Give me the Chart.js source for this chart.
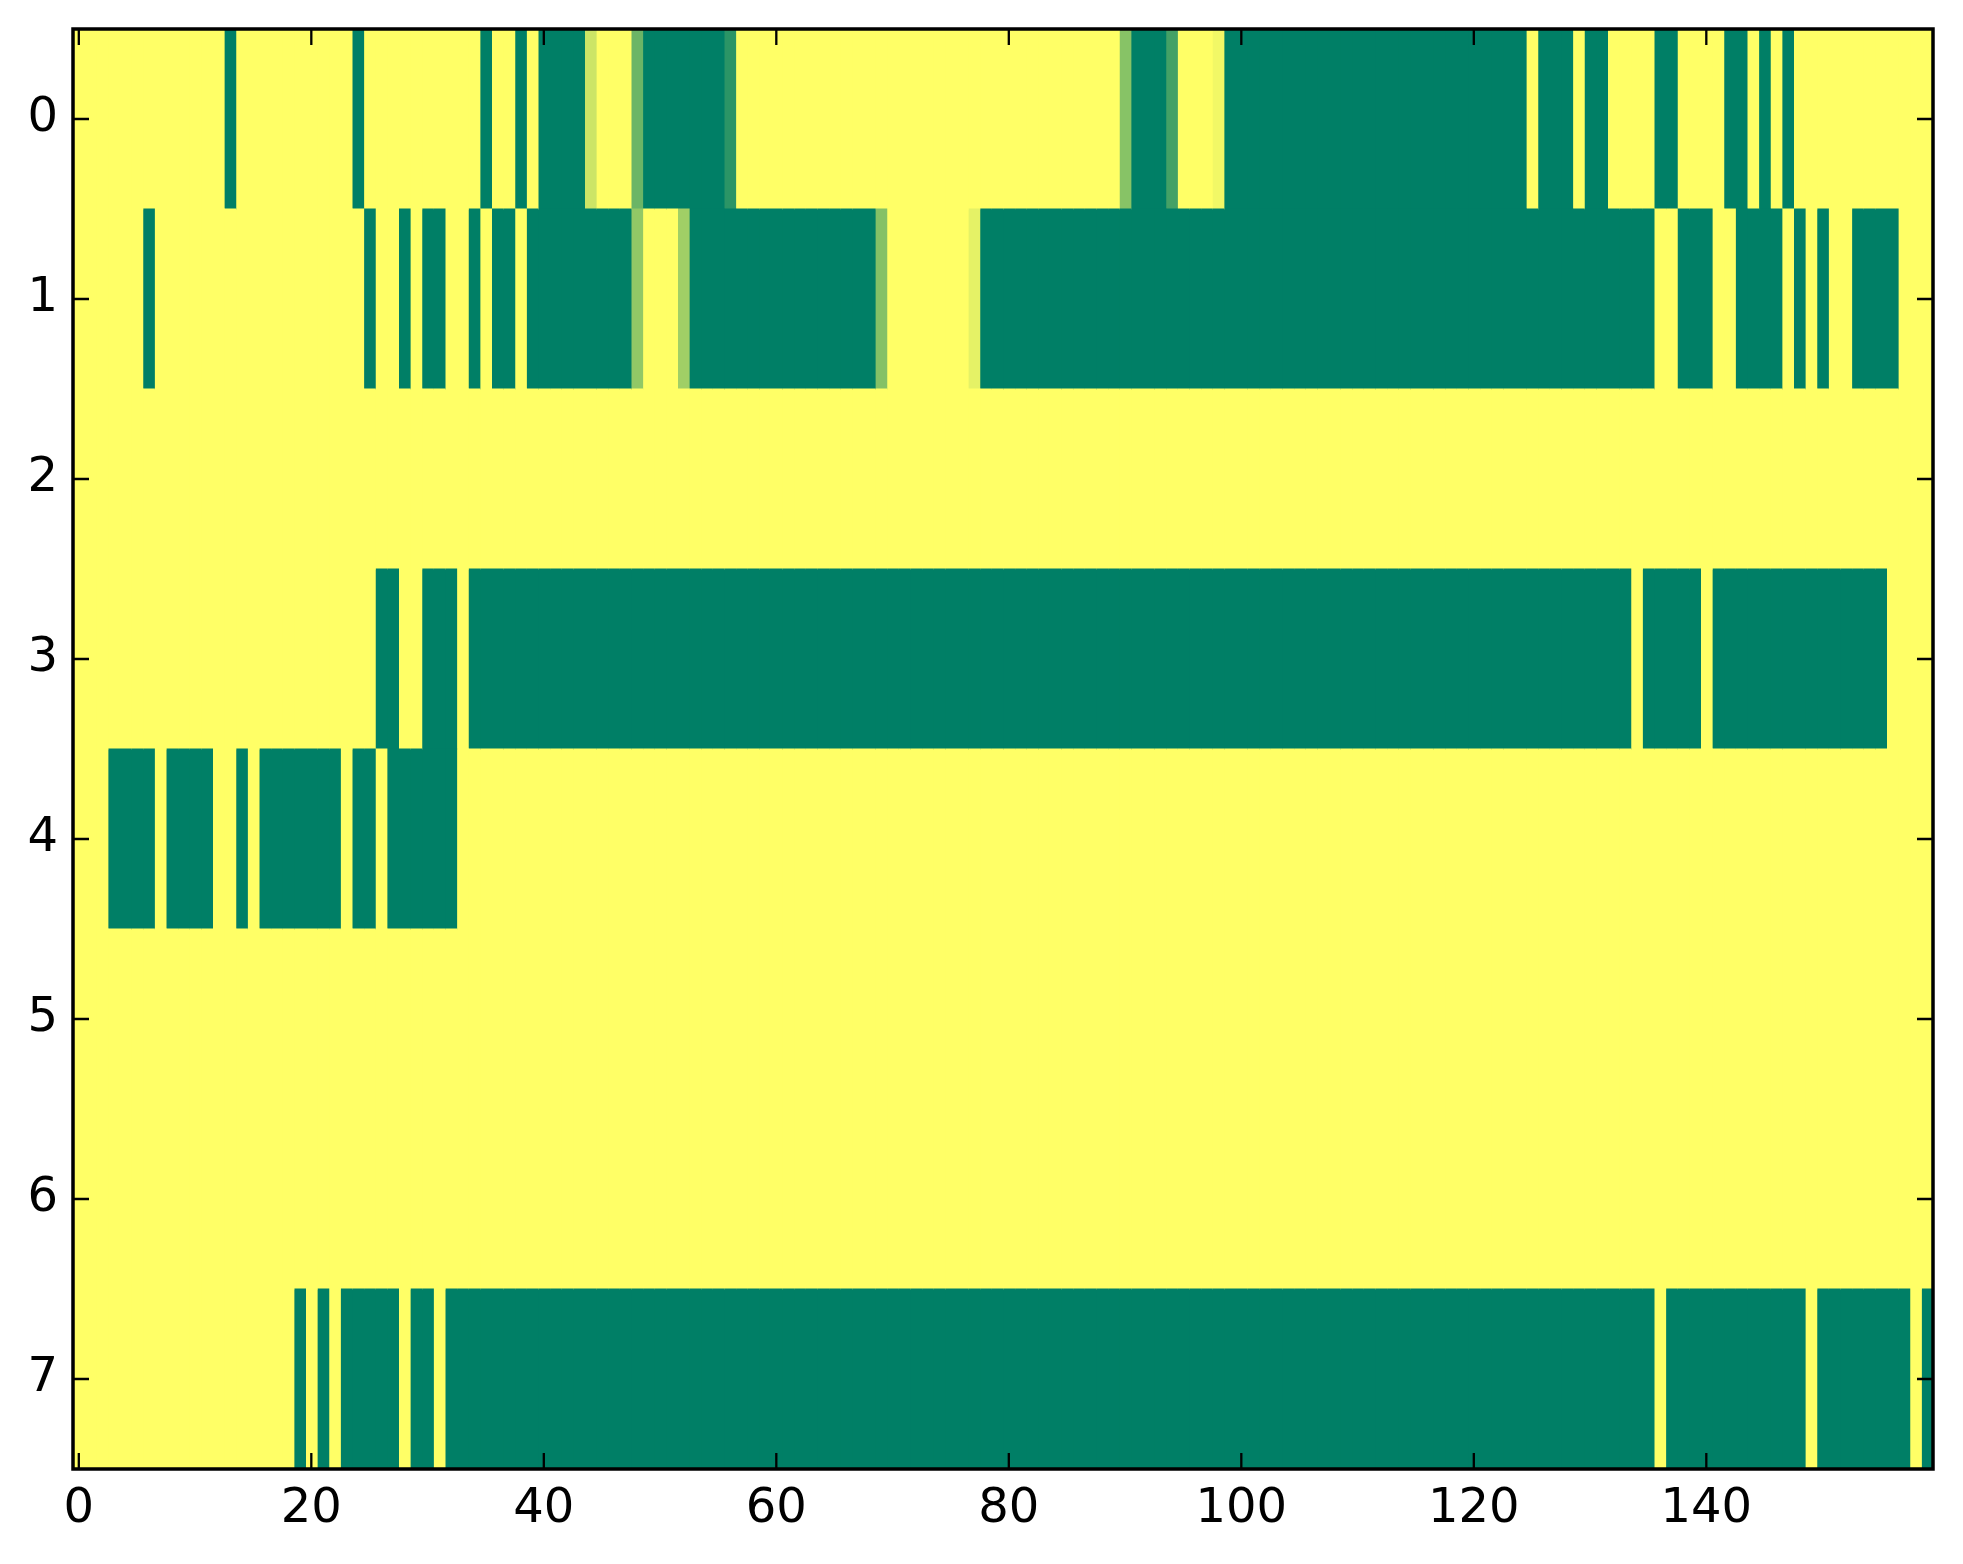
<!DOCTYPE html>
<html><head><meta charset="utf-8">
<script src="https://cdn.jsdelivr.net/npm/chart.js@4.4.0/dist/chart.umd.min.js"></script>
<style>html,body{margin:0;padding:0;background:#fff;}#wrap{width:1963px;height:1564px;}</style>
</head><body><div id="wrap"><canvas id="c" width="1963" height="1564"></canvas></div>
<script>
const xTickValues = [0, 20, 40, 60, 80, 100, 120, 140];
const yLabels = ['0', '1', '2', '3', '4', '5', '6', '7'];

const row0 = [
1,1,1,1,1,1,1,1,1,1,
1,1,1,0,1,1,1,1,1,1,
1,1,1,1,0,1,1,1,1,1,
1,1,1,1,1,0,1,1,0,1,
0,0,0,0,0.8,1,1,1,0.42,0,
0,0,0,0,0,0,0.17,1,1,1,
1,1,1,1,1,1,1,1,1,1,
1,1,1,1,1,1,1,1,1,1,
1,1,1,1,1,1,1,1,1,1,
0.53,0,0,0,0.27,1,1,1,0.95,0,
0,0,0,0,0,0,0,0,0,0,
0,0,0,0,0,0,0,0,0,0,
0,0,0,0,0,1,0,0,0,1,
0,0,1,1,1,1,0,0,1,1,
1,1,0,0,1,0,1,0,1,1,
1,1,1,1,1,1,1,1,1,1];
const row1 = [
1,1,1,1,1,1,0,1,1,1,
1,1,1,1,1,1,1,1,1,1,
1,1,1,1,1,0,1,1,0,1,
0,0,1,1,0,1,0,0,1,0,
0,0,0,0,0,0,0,0,0.57,1,
1,1,0.63,0,0,0,0,0,0,0,
0,0,0,0,0,0,0,0,0,0.52,
1,1,1,1,1,1,1,0.9,0,0,
0,0,0,0,0,0,0,0,0,0,
0,0,0,0,0,0,0,0,0,0,
0,0,0,0,0,0,0,0,0,0,
0,0,0,0,0,0,0,0,0,0,
0,0,0,0,0,0,0,0,0,0,
0,0,0,0,0,0,1,1,0,0,
0,1,1,0,0,0,0,1,0,1,
0,1,1,0,0,0,0,1,1,1];
const row2 = [
1,1,1,1,1,1,1,1,1,1,
1,1,1,1,1,1,1,1,1,1,
1,1,1,1,1,1,1,1,1,1,
1,1,1,1,1,1,1,1,1,1,
1,1,1,1,1,1,1,1,1,1,
1,1,1,1,1,1,1,1,1,1,
1,1,1,1,1,1,1,1,1,1,
1,1,1,1,1,1,1,1,1,1,
1,1,1,1,1,1,1,1,1,1,
1,1,1,1,1,1,1,1,1,1,
1,1,1,1,1,1,1,1,1,1,
1,1,1,1,1,1,1,1,1,1,
1,1,1,1,1,1,1,1,1,1,
1,1,1,1,1,1,1,1,1,1,
1,1,1,1,1,1,1,1,1,1,
1,1,1,1,1,1,1,1,1,1];
const row3 = [
1,1,1,1,1,1,1,1,1,1,
1,1,1,1,1,1,1,1,1,1,
1,1,1,1,1,1,0,0,1,1,
0,0,0,1,0,0,0,0,0,0,
0,0,0,0,0,0,0,0,0,0,
0,0,0,0,0,0,0,0,0,0,
0,0,0,0,0,0,0,0,0,0,
0,0,0,0,0,0,0,0,0,0,
0,0,0,0,0,0,0,0,0,0,
0,0,0,0,0,0,0,0,0,0,
0,0,0,0,0,0,0,0,0,0,
0,0,0,0,0,0,0,0,0,0,
0,0,0,0,0,0,0,0,0,0,
0,0,0,0,1,0,0,0,0,0,
1,0,0,0,0,0,0,0,0,0,
0,0,0,0,0,0,1,1,1,1];
const row4 = [
1,1,1,0,0,0,0,1,0,0,
0,0,1,1,0,1,0,0,0,0,
0,0,0,1,0,0,1,0,0,0,
0,0,0,1,1,1,1,1,1,1,
1,1,1,1,1,1,1,1,1,1,
1,1,1,1,1,1,1,1,1,1,
1,1,1,1,1,1,1,1,1,1,
1,1,1,1,1,1,1,1,1,1,
1,1,1,1,1,1,1,1,1,1,
1,1,1,1,1,1,1,1,1,1,
1,1,1,1,1,1,1,1,1,1,
1,1,1,1,1,1,1,1,1,1,
1,1,1,1,1,1,1,1,1,1,
1,1,1,1,1,1,1,1,1,1,
1,1,1,1,1,1,1,1,1,1,
1,1,1,1,1,1,1,1,1,1];
const row5 = [
1,1,1,1,1,1,1,1,1,1,
1,1,1,1,1,1,1,1,1,1,
1,1,1,1,1,1,1,1,1,1,
1,1,1,1,1,1,1,1,1,1,
1,1,1,1,1,1,1,1,1,1,
1,1,1,1,1,1,1,1,1,1,
1,1,1,1,1,1,1,1,1,1,
1,1,1,1,1,1,1,1,1,1,
1,1,1,1,1,1,1,1,1,1,
1,1,1,1,1,1,1,1,1,1,
1,1,1,1,1,1,1,1,1,1,
1,1,1,1,1,1,1,1,1,1,
1,1,1,1,1,1,1,1,1,1,
1,1,1,1,1,1,1,1,1,1,
1,1,1,1,1,1,1,1,1,1,
1,1,1,1,1,1,1,1,1,1];
const row6 = [
1,1,1,1,1,1,1,1,1,1,
1,1,1,1,1,1,1,1,1,1,
1,1,1,1,1,1,1,1,1,1,
1,1,1,1,1,1,1,1,1,1,
1,1,1,1,1,1,1,1,1,1,
1,1,1,1,1,1,1,1,1,1,
1,1,1,1,1,1,1,1,1,1,
1,1,1,1,1,1,1,1,1,1,
1,1,1,1,1,1,1,1,1,1,
1,1,1,1,1,1,1,1,1,1,
1,1,1,1,1,1,1,1,1,1,
1,1,1,1,1,1,1,1,1,1,
1,1,1,1,1,1,1,1,1,1,
1,1,1,1,1,1,1,1,1,1,
1,1,1,1,1,1,1,1,1,1,
1,1,1,1,1,1,1,1,1,1];
const row7 = [
1,1,1,1,1,1,1,1,1,1,
1,1,1,1,1,1,1,1,1,0,
1,0,1,0,0,0,0,0,1,0,
0,1,0,0,0,0,0,0,0,0,
0,0,0,0,0,0,0,0,0,0,
0,0,0,0,0,0,0,0,0,0,
0,0,0,0,0,0,0,0,0,0,
0,0,0,0,0,0,0,0,0,0,
0,0,0,0,0,0,0,0,0,0,
0,0,0,0,0,0,0,0,0,0,
0,0,0,0,0,0,0,0,0,0,
0,0,0,0,0,0,0,0,0,0,
0,0,0,0,0,0,0,0,0,0,
0,0,0,0,0,0,1,0,0,0,
0,0,0,0,0,0,0,0,0,1,
0,0,0,0,0,0,0,0,1,0];

const rows = [row0, row1, row2, row3, row4, row5, row6, row7];
const nCols = row0.length;

// matplotlib "summer" colormap: (v, 0.5 + 0.5 v, 0.4)
function summer(v) {
  const r = Math.floor(255 * v);
  const g = Math.floor(255 * (0.5 + 0.5 * v));
  const b = Math.floor(255 * 0.4);
  return 'rgb(' + r + ',' + g + ',' + b + ')';
}

const datasets = [];
for (let c = 0; c < nCols; c++) {
  datasets.push({
    data: rows.map(() => [c - 0.5, c + 0.5]),
    backgroundColor: rows.map(r => summer(r[c])),
    borderWidth: 0,
    grouped: false,
    barPercentage: 1,
    categoryPercentage: 1,
    inflateAmount: 0.5
  });
}

const FONT = { family: 'DejaVu Sans', size: 48 };

function zeroPad(s) {
  s.paddingTop = 0; s.paddingBottom = 0; s.paddingLeft = 0; s.paddingRight = 0;
}

const framePlugin = {
  id: 'frame',
  afterDraw(chart) {
    const { ctx, chartArea: a, scales } = chart;
    const x = scales.x, y = scales.y;
    ctx.save();
    ctx.strokeStyle = '#000';
    ctx.lineWidth = 2.3;
    ctx.beginPath();
    const tl = 16;
    xTickValues.forEach(v => {
      const px = x.getPixelForValue(v);
      ctx.moveTo(px, a.bottom); ctx.lineTo(px, a.bottom - tl);
      ctx.moveTo(px, a.top); ctx.lineTo(px, a.top + tl);
    });
    yLabels.forEach((l, i) => {
      const py = y.getPixelForValue(i);
      ctx.moveTo(a.left, py); ctx.lineTo(a.left + tl, py);
      ctx.moveTo(a.right, py); ctx.lineTo(a.right - tl, py);
    });
    ctx.stroke();
    ctx.lineWidth = 3.5;
    ctx.strokeRect(a.left, a.top, a.right - a.left, a.bottom - a.top);
    ctx.restore();
  }
};

new Chart(document.getElementById('c'), {
  type: 'bar',
  data: { labels: yLabels, datasets: datasets },
  options: {
    indexAxis: 'y',
    responsive: false,
    devicePixelRatio: 1,
    animation: false,
    layout: { padding: { left: 0, top: 29, right: 30, bottom: 0 } },
    plugins: { legend: { display: false }, tooltip: { enabled: false } },
    scales: {
      x: {
        type: 'linear',
        min: -0.5,
        max: nCols - 0.5,
        afterBuildTicks: s => { s.ticks = xTickValues.map(v => ({ value: v })); },
        afterFit: s => { s.height = 95; zeroPad(s); },
        ticks: { autoSkip: false, maxRotation: 0, padding: 12, color: '#000', font: FONT,
                 callback: v => String(v) },
        grid: { display: false, drawTicks: false },
        border: { display: false }
      },
      y: {
        type: 'category',
        labels: yLabels,
        offset: true,
        afterFit: s => { s.width = 73; zeroPad(s); },
        ticks: { padding: 15, color: '#000', font: FONT },
        grid: { display: false, drawTicks: false },
        border: { display: false }
      }
    }
  },
  plugins: [framePlugin]
});
</script>
</body></html>
